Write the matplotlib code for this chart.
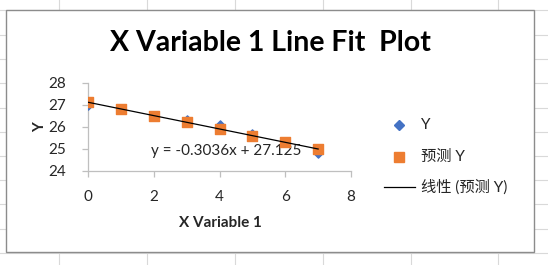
import matplotlib
matplotlib.use("Agg")
from matplotlib import pyplot as plt
from matplotlib.lines import Line2D
from matplotlib.patches import Rectangle

plt.rcParams['font.family'] = ['Lato', 'Noto Sans CJK SC', 'DejaVu Sans']

# data
x_values = [0, 1, 2, 3, 4, 5, 6, 7]
y_values = [27.0, 26.8, 26.5, 26.3, 26.1, 25.7, 25.3, 24.8]
predicted_y = [27.125, 26.821, 26.518, 26.214, 25.911, 25.607, 25.304, 25.0]
x_ticks = [0, 2, 4, 6, 8]
y_ticks = [24, 25, 26, 27, 28]
equation = "y = -0.3036x + 27.125"

W, H = 548, 265
fig = plt.figure(figsize=(W / 100, H / 100), dpi=100)


def fx(px):
    return px / W


def fy(py):
    return 1 - py / H


# spreadsheet cells behind the chart
grid_col = "#d9d9d9"
for gx in [59, 147, 235, 323, 411, 498]:
    fig.add_artist(Line2D([fx(gx)] * 2, [0, 1], color=grid_col, lw=0.8, zorder=0))
for gy in [10, 35, 59, 83, 108, 132, 156, 180, 204, 229, 253]:
    fig.add_artist(Line2D([0, 1], [fy(gy)] * 2, color=grid_col, lw=0.8, zorder=0))
fig.add_artist(Rectangle((fx(6), fy(252)), fx(534 - 6), (252 - 10) / H,
                         facecolor="white", edgecolor="#8c8c8c", lw=1.0, zorder=1))

ax = fig.add_axes([fx(88), fy(171), fx(351 - 88), (171 - 83) / H], zorder=2)
ax.patch.set_alpha(0)

ax.scatter(x_values, y_values, marker="D", s=22, color="#4472c4", zorder=3, label="Y")
ax.scatter(x_values, predicted_y, marker="s", s=55, color="#ed7d31", zorder=4, label="预测 Y")
ax.plot([x_values[0], x_values[-1]], [predicted_y[0], predicted_y[-1]], color="black",
        lw=0.9, zorder=5, label="线性 (预测 Y)")

ax.set_xlim(0, 8)
ax.set_ylim(24, 28)
ax.set_xticks(x_ticks)
ax.set_yticks(y_ticks)
for s in ["top", "right"]:
    ax.spines[s].set_visible(False)
for s in ["left", "bottom"]:
    ax.spines[s].set_color("#bfbfbf")
    ax.spines[s].set_linewidth(0.9)
ax.tick_params(axis="both", colors="#bfbfbf", length=4, width=0.9, labelsize=11,
               labelcolor="#262626")
ax.tick_params(axis="x", pad=10)
ax.tick_params(axis="y", pad=12)

ax.text(6.5, 24.92, equation, fontsize=11, color="#262626", ha="right", va="center")

fig.text(fx(270), fy(43), "X Variable 1 Line Fit  Plot", fontsize=20.5, fontweight="bold",
         ha="center", va="center", color="black")
fig.text(fx(220), fy(223), "X Variable 1", fontsize=11, fontweight="bold",
         ha="center", va="center", color="#262626")
fig.text(fx(40), fy(127), "Y", fontsize=11, fontweight="bold", rotation=90,
         ha="center", va="center", color="#262626")

# legend
fig.add_artist(Line2D([fx(399)], [fy(125)], marker="D", markersize=5, color="#4472c4", lw=0))
fig.add_artist(Line2D([fx(399)], [fy(157)], marker="s", markersize=7.5, color="#ed7d31", lw=0))
fig.add_artist(Line2D([fx(384), fx(415)], [fy(187)] * 2, color="black", lw=0.9))
fig.text(fx(421), fy(125), "Y", fontsize=11, ha="left", va="center", color="#262626")
fig.text(fx(421), fy(157), "预测 Y", fontsize=11, ha="left", va="center", color="#262626")
fig.text(fx(421), fy(187), "线性 (预测 Y)", fontsize=11, ha="left", va="center", color="#262626")

fig.savefig("out.png", dpi=100)
